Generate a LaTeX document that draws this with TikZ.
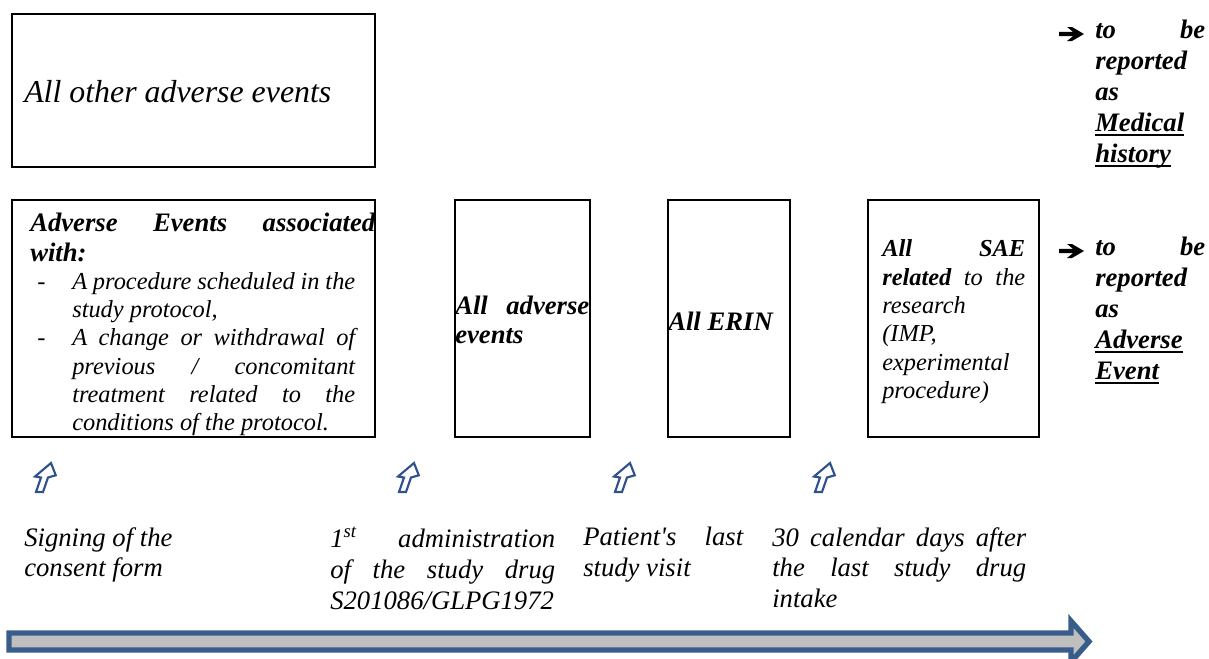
\documentclass[tikz,border=0pt]{standalone}
\usepackage{fontspec}
\setmainfont{Liberation Serif}
\newdimen\px \px=0.75pt
\newcommand\ulword[1]{\setbox0\hbox{#1}\rlap{\rule[-3.2pt]{\wd0}{1.3pt}}\box0}
\definecolor{tlblue}{HTML}{385D8A}
\definecolor{tlgray}{HTML}{BFBFBF}
\definecolor{mkblue}{HTML}{2F528F}
\begin{document}
\begin{tikzpicture}[x=0.75pt,y=-0.75pt,
  box/.style={draw=black,line width=1.5pt},
  txt/.style={inner sep=0pt,anchor=north west,align=left,font=\fontsize{20}{22.3}\selectfont\itshape},
  smtxt/.style={inner sep=0pt,anchor=north west,align=left,font=\fontsize{18.3}{21.1}\selectfont\itshape},
  bigtxt/.style={inner sep=0pt,anchor=west,font=\fontsize{23.9}{27}\selectfont\itshape},
  rtxt/.style={inner sep=0pt,anchor=north west,align=left,font=\fontsize{20}{23.2}\selectfont\itshape\bfseries},
  ltxt/.style={inner sep=0pt,anchor=north west,align=left,font=\fontsize{20}{23.2}\selectfont\itshape},
  uparrow/.style={draw=mkblue,line width=1.6pt,line join=miter},
  uparr/.pic={\draw[uparrow] (0,0) -- ++(7,0) -- ++(5,-14.5) -- ++(7.8,-2.2) -- ++(-4.8,-12.3) -- ++(-16,13.5) -- ++(6,1) -- cycle;},
  rarr/.pic={\fill[black] (0,-2.2) -- (14,-2.2) -- (8,-7) -- (13,-7) -- (25,0) -- (13,7) -- (8,7) -- (14,2.2) -- (0,2.2) -- cycle;}
]
\useasboundingbox (0,0) rectangle (1209,658);

% boxes
\draw[box] (12,14) rectangle (375,167);
\draw[box] (12,200) rectangle (375,437);
\draw[box] (455,200) rectangle (590,437);
\draw[box] (668,200) rectangle (790,437);
\draw[box] (868,200) rectangle (1039,437);

\node[bigtxt] (tA) at (24,92) {All other adverse events};

\node[txt] (tB) at (30,213) {%
\makebox[345\px][s]{\bfseries Adverse Events associated}\\
\textbf{with:}};
\node[smtxt] (tBl) at (30,272.5) {%
\hspace*{7\px}\makebox[35\px][l]{-}\makebox[283\px][s]{A procedure scheduled in the}\\
\hspace*{42\px}study protocol,\\
\hspace*{7\px}\makebox[35\px][l]{-}\makebox[283\px][s]{A change or withdrawal of}\\
\hspace*{42\px}\makebox[283\px][s]{previous / concomitant}\\
\hspace*{42\px}\makebox[283\px][s]{treatment related to the}\\
\hspace*{42\px}conditions of the protocol.};

\node[txt,font=\fontsize{20}{21.75}\selectfont\itshape] (tC) at (455,296) {%
\makebox[134\px][s]{\bfseries All adverse}\\
\textbf{events}};

\node[txt,anchor=west] (tD) at (668,321) {\textbf{All ERIN}};

\node[smtxt,font=\fontsize{18.3}{21.3}\selectfont\itshape] (tE) at (882,239.5) {%
\makebox[143\px][s]{\bfseries All SAE}\\
\makebox[143\px][s]{\textbf{related} to the}\\
research\\
(IMP,\\
experimental\\
procedure)};

% right column
\pic at (1059,34) {rarr};
\node[rtxt] (rA) at (1095,20) {%
\makebox[110\px][s]{to be}\\
reported\\
as\\
\ulword{Medical}\\
\ulword{history}};
\pic at (1059,251) {rarr};
\node[rtxt] (rB) at (1095,237) {%
\makebox[110\px][s]{to be}\\
reported\\
as\\
\ulword{Adverse}\\
\ulword{Event}};

% time markers
\pic at (36,492) {uparr};
\pic at (399,492) {uparr};
\pic at (615,492) {uparr};
\pic at (815,492) {uparr};

\node[ltxt] (l1) at (24,527) {Signing of the\\ consent form};
\node[ltxt] (l2) at (330,527) {%
\makebox[225\px][s]{1\textsuperscript{st} administration}\\
\makebox[225\px][s]{of the study drug}\\
S201086/GLPG1972};
\node[ltxt] (l3) at (583,527) {%
\makebox[160\px][s]{Patient\textquotesingle s last}\\
study visit};
\node[ltxt] (l4) at (772,527) {%
\makebox[254\px][s]{30 calendar days after}\\
\makebox[254\px][s]{the last study drug}\\
intake};

% timeline arrow
\draw[draw=tlblue,fill=tlgray,line width=4pt,line join=miter]
  (9,633) -- (1071,633) -- (1071,621) -- (1089,641.5) -- (1071,662) -- (1071,650) -- (9,650) -- cycle;
\end{tikzpicture}
\end{document}
